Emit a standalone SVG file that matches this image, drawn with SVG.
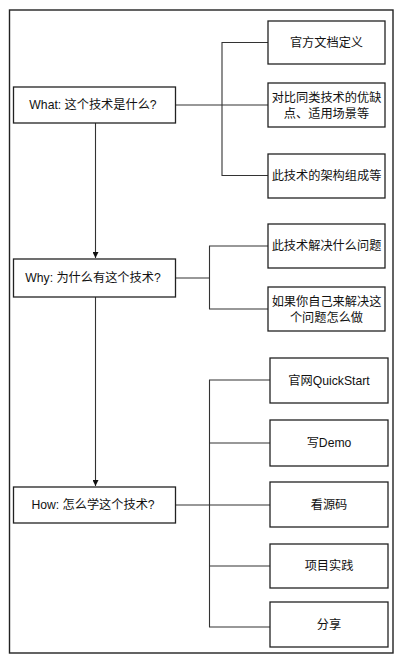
<svg xmlns="http://www.w3.org/2000/svg" width="403" height="660" viewBox="0 0 403 660">
  <style>
    .box { fill: #fff; stroke: #222; stroke-width: 1.3; }
    .frame { fill: #fff; stroke: #222; stroke-width: 1.4; }
    .wire { fill: none; stroke: #333; stroke-width: 1.1; }
    text { font-family: "Liberation Sans", "Noto Sans CJK SC", sans-serif; font-size: 12.2px; fill: #111; text-anchor: middle; dominant-baseline: central; }
  </style>
  <defs>
    <marker id="arrow" viewBox="0 0 8 8" refX="8" refY="4" markerWidth="6" markerHeight="6" orient="auto" markerUnits="userSpaceOnUse">
      <path d="M0,0 L8,4 L0,8 z" fill="#111"/>
    </marker>
  </defs>

  <rect class="frame" x="9.5" y="10" width="383.5" height="643"/>

  <g id="connectors">
    <!-- What -> Why -> How -->
    <path class="wire" d="M95.5,123 V258" marker-end="url(#arrow)"/>
    <path class="wire" d="M95.5,297 V486" marker-end="url(#arrow)"/>
    <!-- What branches -->
    <path class="wire" d="M175.5,105 H268"/>
    <path class="wire" d="M268,42.5 H222 V175.5 H268"/>
    <!-- Why branches -->
    <path class="wire" d="M175.5,278 H209.5"/>
    <path class="wire" d="M268,246 H209.5 V309 H268"/>
    <!-- How branches -->
    <path class="wire" d="M175.5,505 H270"/>
    <path class="wire" d="M270,380 H209.5 V627 H270"/>
    <path class="wire" d="M209.5,443 H270"/>
    <path class="wire" d="M209.5,566 H270"/>
  </g>

  <g id="what">
    <rect class="box" x="13.5" y="87" width="162" height="36"/>
    <text x="93" y="105">What: 这个技术是什么?</text>
  </g>
  <g id="why">
    <rect class="box" x="13.5" y="259" width="162" height="38"/>
    <text x="93" y="278">Why: 为什么有这个技术?</text>
  </g>
  <g id="how">
    <rect class="box" x="13.5" y="487" width="162" height="36"/>
    <text x="93" y="505">How: 怎么学这个技术?</text>
  </g>

  <g id="what-definition">
    <rect class="box" x="268" y="21" width="117" height="43"/>
    <text x="326.5" y="42.5">官方文档定义</text>
  </g>
  <g id="what-compare">
    <rect class="box" x="268" y="83" width="117" height="44"/>
    <text x="326.5" y="98">对比同类技术的优缺</text>
    <text x="326.5" y="114">点、适用场景等</text>
  </g>
  <g id="what-architecture">
    <rect class="box" x="268" y="154" width="117" height="44"/>
    <text x="326.5" y="176">此技术的架构组成等</text>
  </g>

  <g id="why-problem">
    <rect class="box" x="268" y="224" width="117" height="44"/>
    <text x="326.5" y="246">此技术解决什么问题</text>
  </g>
  <g id="why-yourself">
    <rect class="box" x="268" y="287" width="117" height="44"/>
    <text x="326.5" y="302">如果你自己来解决这</text>
    <text x="326.5" y="318">个问题怎么做</text>
  </g>

  <g id="how-quickstart">
    <rect class="box" x="270" y="358" width="118" height="45"/>
    <text x="329" y="380.5">官网QuickStart</text>
  </g>
  <g id="how-demo">
    <rect class="box" x="270" y="420" width="118" height="46"/>
    <text x="329" y="443">写Demo</text>
  </g>
  <g id="how-source">
    <rect class="box" x="270" y="482" width="118" height="45"/>
    <text x="329" y="504.5">看源码</text>
  </g>
  <g id="how-practice">
    <rect class="box" x="270" y="544" width="118" height="44"/>
    <text x="329" y="566">项目实践</text>
  </g>
  <g id="how-share">
    <rect class="box" x="270" y="602" width="118" height="45"/>
    <text x="329" y="624.5">分享</text>
  </g>
</svg>
